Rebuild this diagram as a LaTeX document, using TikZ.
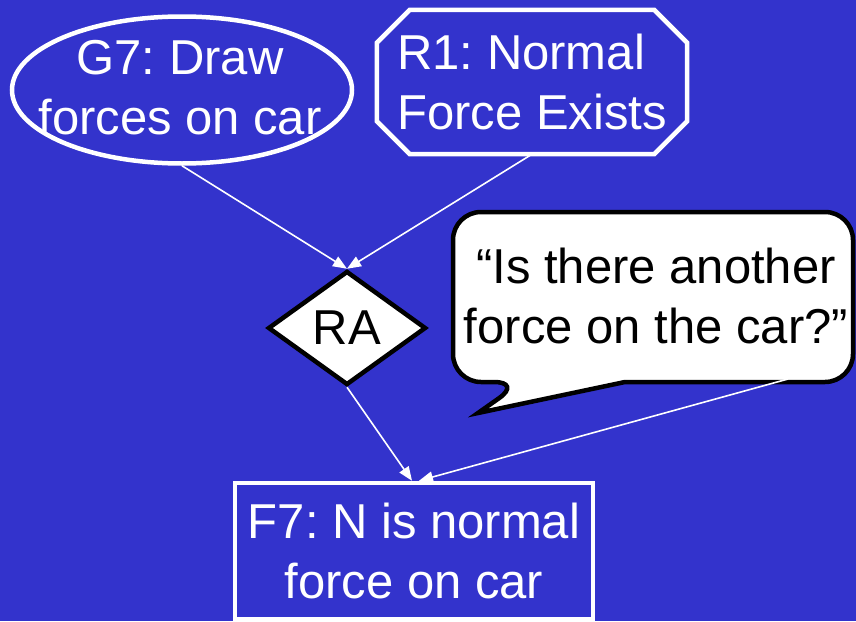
\documentclass[tikz,border=0pt]{standalone}
\usepackage{fontspec}
\setmainfont{Liberation Sans}
\usepackage{xcolor}
\usepackage{tikz}
\usetikzlibrary{shapes,arrows.meta,positioning,calc}
\definecolor{slideblue}{RGB}{51,51,204}
\frenchspacing

\begin{document}
\begin{tikzpicture}[x=1pt, y=-1pt, font=\fontsize{49pt}{60pt}\selectfont]
        \tikzstyle{goal} = [ellipse, draw=white, line width=4.5pt, minimum width=340pt, minimum height=147pt]
        \tikzstyle{rule} = [rectangle, text=white, align=left, minimum width=310pt, minimum height=144pt]
        \tikzstyle{octo} = [draw=white, line width=4.5pt]
        \tikzstyle{check} = [diamond, draw=black, fill=white, line width=4.5pt, inner sep=0pt, minimum width=158pt, minimum height=114pt]
        \tikzstyle{bubble} = [draw=black, fill=white, line width=4.5pt]
        \tikzstyle{fact} = [rectangle, draw=white, line width=4.5pt, text=white, align=center, minimum width=358pt, minimum height=136pt]
        \tikzstyle{line} = [draw=white, line width=1.6pt, -{Triangle[length=14pt, width=11pt]}]

        % Slide
        \useasboundingbox (0,0) rectangle (856,621);
        \clip (0,0) rectangle (856,621);
        \fill [slideblue] (0,0) rectangle (856,621);

        % Goal and rule
        \node [goal] (g7) at (182,90) {};
        \node [text=white, align=center] (g7text) at (180,88) {G7: Draw\\forces on car};
        \node [rule] (r1) at (532,82) {R1: Normal\\Force Exists};
        \draw [octo] ([xshift=33pt]r1.north west) -- ([xshift=-33pt]r1.north east)
            -- ([yshift=-33pt]r1.north east) -- ([yshift=33pt]r1.south east)
            -- ([xshift=-33pt]r1.south east) -- ([xshift=33pt]r1.south west)
            -- ([yshift=33pt]r1.south west) -- ([yshift=-33pt]r1.north west) -- cycle;

        % Rule application and question
        \node [check] (ra) at (347,328) {RA};
        \draw [bubble] (478,413) -- (625,382) [rounded corners=28pt] -- (853,382) -- (853,212)
            -- (453,212) -- (453,382) -- (522,382) [sharp corners] -- cycle;
        \node [text=black, align=center] (q) at (656,296) {“Is there another\\force on the car?”};
        \coordinate (qend) at (788,379);

        % Fact
        \node [fact] (f7) at (414,551) {F7: N is normal\\force on car};

        % Paths
        \path [line] (g7.south) -- (ra.north);
        \path [line] (r1.south) -- (ra.north);
        \path [line] (ra.south) -- ([xshift=-2pt]f7.north);
        \path [line] (qend) -- ([xshift=5pt]f7.north);
    \end{tikzpicture}
\end{document}
